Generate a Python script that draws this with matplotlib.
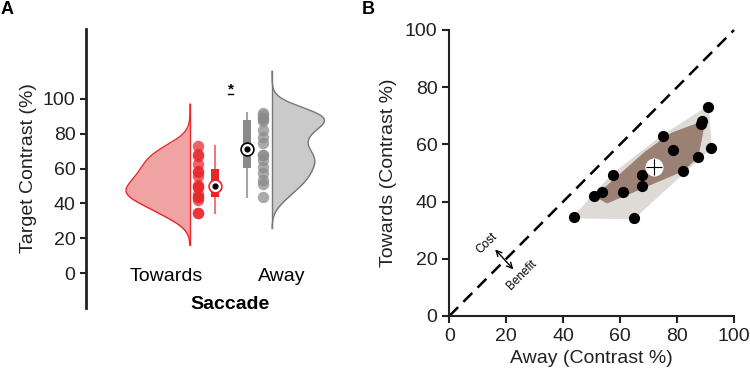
import numpy as np
import matplotlib.pyplot as plt
from matplotlib.patches import Rectangle

plt.rcParams['font.family'] = ['Liberation Sans', 'DejaVu Sans']

# contrast thresholds per subject (%)
away = [43.7, 51.0, 53.5, 57.4, 61.1, 64.7, 67.7, 67.7, 74.9, 78.4, 82.1, 87.5, 88.4, 88.9, 90.8, 91.8]
towards = [34.5, 41.8, 43.4, 49.4, 43.4, 34.2, 49.2, 45.5, 62.9, 58.0, 50.6, 55.6, 67.1, 68.1, 73.0, 58.9]
groups = ['Towards', 'Away']
yticks = [0, 20, 40, 60, 80, 100]

red = '#e8262a'
red_light = '#f0a3a3'
gray = '#8a8a8a'
gray_light = '#cacaca'
txt = '#222222'


def kde(vals, grid, bw):
    z = (grid[:, None] - np.asarray(vals)[None, :]) / bw
    return np.exp(-0.5 * z ** 2).sum(1) / (len(vals) * bw * np.sqrt(2 * np.pi))


def hull(pts):
    pts = sorted(map(tuple, pts))
    def cross(o, a, b):
        return (a[0]-o[0])*(b[1]-o[1]) - (a[1]-o[1])*(b[0]-o[0])
    lo, up = [], []
    for p in pts:
        while len(lo) >= 2 and cross(lo[-2], lo[-1], p) <= 0:
            lo.pop()
        lo.append(p)
    for p in reversed(pts):
        while len(up) >= 2 and cross(up[-2], up[-1], p) <= 0:
            up.pop()
        up.append(p)
    return np.array(lo[:-1] + up[:-1])


# --- bag (tukey depth region) ---
angs = np.linspace(0, 2*np.pi, 720, endpoint=False)
dirs = np.column_stack([np.cos(angs), np.sin(angs)])


def clip(poly, u, h):
    out = []
    m = len(poly)
    for i in range(m):
        a, b = poly[i], poly[(i+1) % m]
        fa, fb = a @ u - h, b @ u - h
        if fa <= 0:
            out.append(a)
        if fa * fb < 0:
            out.append(a + fa/(fa-fb)*(b-a))
    return np.array(out)


def depth_region(P, k):
    poly = np.array([[-1e3, -1e3], [1e3, -1e3], [1e3, 1e3], [-1e3, 1e3]])
    for u in dirs:
        h = np.sort(P @ u)[-k]
        poly = clip(poly, u, h)
        if len(poly) < 3:
            return None
    return poly


def depths(P):
    proj = P @ dirs.T
    return np.array([(proj >= proj[i] - 1e-9).sum(0).min() for i in range(len(P))])


def bag(P):
    n = len(P)
    dep = depths(P)
    k = 1
    while (dep >= k + 1).sum() > n / 2:
        k += 1
    return depth_region(P, k)


fig = plt.figure(figsize=(7.5, 3.79), dpi=100)

# ---------------- panel A ----------------
axA = fig.add_axes([86/750, 1-308/379, 284/750, 279/379])
axA.set_xlim(0, 284)
axA.set_ylim(-20.1, 140.2)
for s in ['top', 'right', 'bottom']:
    axA.spines[s].set_visible(False)
axA.spines['left'].set_linewidth(2)
axA.spines['left'].set_color(txt)
axA.set_xticks([])
axA.set_yticks(yticks)
axA.tick_params(axis='y', labelsize=14, colors=txt, length=4, width=1.5)
axA.set_ylabel('Target Contrast (%)', fontsize=14, color=txt, labelpad=4)

bw = 6.0
scale = None
# (spine x, dots x, box x, side)
layout = {'Towards': (104, 112, 129, -1), 'Away': (186, 177, 161, 1)}
for name, vals, col, col_l, edge in [('Towards', towards, red, red_light, red),
                                     ('Away', away, gray, gray_light, '#777777')]:
    sx, dx, bx, side = layout[name]
    grid = np.linspace(min(vals) - 3*bw, max(vals) + 4*bw, 300)
    d = kde(vals, grid, bw)
    if scale is None:
        scale = 64 / d.max()
    xs = sx + side * d * scale
    axA.fill_betweenx(grid, sx, xs, color=col_l, lw=0)
    axA.plot(xs, grid, color=edge, lw=1)
    axA.plot([sx, sx], [grid[0], grid[-1]], color=edge, lw=1)

    axA.scatter([dx]*len(vals), vals, s=68, color=col, alpha=0.72, lw=0, zorder=3)

    q1, med, q3 = np.percentile(vals, [25, 50, 75])
    wl = '#f07a7a' if name == 'Towards' else '#a5a5a5'
    axA.plot([bx, bx], [min(vals), max(vals)], color=wl, lw=1.5, zorder=2)
    axA.add_patch(Rectangle((bx-4, q1), 8, q3-q1, color=col, lw=0, zorder=3))
    axA.scatter([bx], [med], s=85, color='white', edgecolor=(red if name == 'Towards' else 'black'),
                lw=1.2, zorder=4)
    axA.scatter([bx], [med], s=12, color='black', zorder=5)

axA.text(145, 105.5, '*', ha='center', va='center', fontsize=11, color='black', fontweight='bold')
axA.plot([142.5, 147.5], [102.8, 102.8], color='black', lw=1)

axA.text(80, -2, 'Towards', ha='center', va='center', fontsize=14, color='black')
axA.text(196, -2, 'Away', ha='center', va='center', fontsize=14, color='black')
axA.text(144, -18.3, 'Saccade', ha='center', va='center', fontsize=14, fontweight='bold')

fig.text(7/750, 1-10/379, 'A', fontsize=13, fontweight='bold', ha='center', va='center')
fig.text(368/750, 1-10/379, 'B', fontsize=13, fontweight='bold', ha='center', va='center')

# ---------------- panel B ----------------
axB = fig.add_axes([449.3/750, 1-316/379, 284.7/750, 286/379])
axB.set_xlim(0, 100)
axB.set_ylim(0, 100)
for s in ['top', 'right']:
    axB.spines[s].set_visible(False)
for s in ['left', 'bottom']:
    axB.spines[s].set_linewidth(1.5)
    axB.spines[s].set_color(txt)
axB.set_xticks(yticks)
axB.set_yticks(yticks)
axB.tick_params(labelsize=14, colors=txt, length=5, width=1.5)
axB.set_xlabel('Away (Contrast %)', fontsize=14, color=txt, labelpad=4)
axB.set_ylabel('Towards (Contrast %)', fontsize=14, color=txt, labelpad=6)

pts = np.column_stack([away, towards])
outer = hull(pts)
axB.fill(outer[:, 0], outer[:, 1], color='#dedad6', lw=1.5, ec='#dedad6', zorder=1)
bg = bag(pts)
axB.fill(bg[:, 0], bg[:, 1], color='#9b8074', lw=0, zorder=2)

mx, my = np.mean(away), np.mean(towards)
axB.plot([0, 100], [0, 100], color='black', lw=1.8, ls=(0, (5, 3)), zorder=2, clip_on=False)
axB.scatter(away, towards, s=65, color='black', lw=0, zorder=4, clip_on=False)
axB.scatter([mx], [my], s=170, color='white', lw=0, zorder=5)
axB.scatter([mx], [my], s=120, marker='+', color='black', lw=0.8, zorder=6)

axB.annotate('', xy=(16.1, 23.3), xytext=(22.5, 16.3),
             arrowprops=dict(arrowstyle='<->', color='black', lw=1, shrinkA=0, shrinkB=0))
axB.text(13.1, 25.4, 'Cost', rotation=45, fontsize=8.5, ha='center', va='center', rotation_mode='anchor')
axB.text(25.4, 14.3, 'Benefit', rotation=45, fontsize=8.5, ha='center', va='center', rotation_mode='anchor')

fig.savefig('out.png', dpi=100)
